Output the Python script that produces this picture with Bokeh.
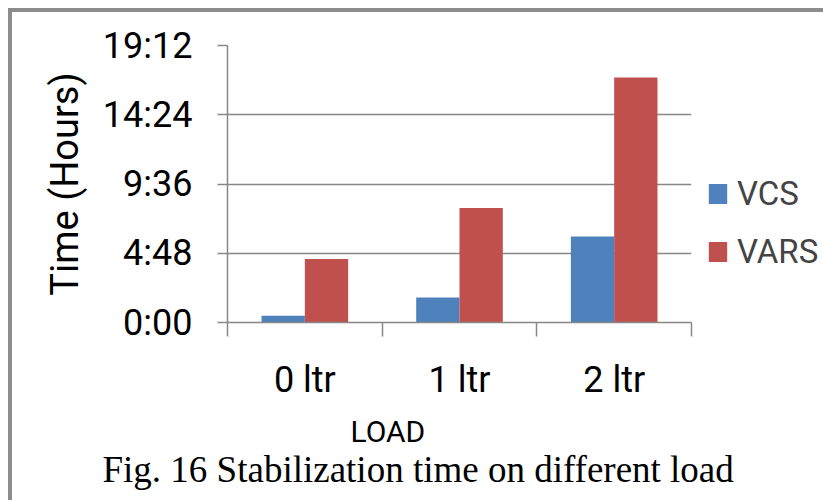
from bokeh.plotting import figure
from bokeh.models import (ColumnDataSource, Range1d, FixedTicker, Legend, LegendItem, Title)
from bokeh.transform import dodge
from bokeh.embed import file_html
from bokeh.resources import INLINE

# ---- data ----
loads = ["0 ltr", "1 ltr", "2 ltr"]
vcs_hours = [0.46, 1.73, 5.96]
vars_hours = [4.41, 7.94, 16.98]
y_ticks = [0, 4.8, 9.6, 14.4, 19.2]
y_tick_labels = ["0:00", "4:48", "9:36", "14:24", "19:12"]

x_title = "LOAD"
y_title = "Time (Hours)"
caption = "Fig. 16 Stabilization time on different load"

SANS = "Roboto"
GRAY = "#878787"
BLUE = "#4F81BD"
RED = "#C0504D"

pos = [i + 0.5 for i in range(len(loads))]
src = ColumnDataSource(dict(x=pos, vcs=vcs_hours, vars=vars_hours))

p = figure(frame_width=464, frame_height=277, output_backend="svg", toolbar_location=None,
           x_range=Range1d(0, len(loads)), y_range=Range1d(y_ticks[0], y_ticks[-1]),
           min_border_left=227, min_border_right=132, min_border_top=45,
           min_border_bottom=178)
p.outline_line_color = None
p.background_fill_color = "white"
p.border_fill_color = None
p.styles = {
    "background": "linear-gradient(#8c8c8c,#8c8c8c) 8px 8px / 4px 100% no-repeat, "
                  "linear-gradient(#8c8c8c,#8c8c8c) 8px 8px / 100% 4px no-repeat, white"
}

r1 = p.vbar(x=dodge("x", -0.14, range=p.x_range), top="vcs", width=0.28, source=src,
            fill_color=BLUE, line_color=None)
r2 = p.vbar(x=dodge("x", 0.14, range=p.x_range), top="vars", width=0.28, source=src,
            fill_color=RED, line_color=None)

# x axis: labels at category centres, ticks at category boundaries
xa = p.xaxis[0]
xa.ticker = FixedTicker(ticks=pos, minor_ticks=list(range(len(loads) + 1)))
xa.major_label_overrides = {pv: lab for pv, lab in zip(pos, loads)}
xa.major_tick_out = 0
xa.major_tick_in = 0
xa.minor_tick_out = 14
xa.minor_tick_in = 0
xa.minor_tick_line_color = GRAY
xa.minor_tick_line_width = 1.5
xa.axis_line_color = GRAY
xa.axis_line_width = 1.5
xa.major_label_standoff = 22
xa.major_label_text_font = SANS
xa.major_label_text_font_size = "36px"
xa.major_label_text_color = "black"

ya = p.yaxis[0]
ya.ticker = FixedTicker(ticks=y_ticks, minor_ticks=[])
ya.major_label_overrides = {tv: lab for tv, lab in zip(y_ticks, y_tick_labels)}
ya.major_tick_out = 10
ya.major_tick_in = 0
ya.major_tick_line_color = GRAY
ya.major_tick_line_width = 1.5
ya.axis_line_color = GRAY
ya.axis_line_width = 1.5
ya.major_label_standoff = 25
ya.major_label_text_font = SANS
ya.major_label_text_font_size = "36px"
ya.major_label_text_color = "black"

p.xgrid.visible = False
p.ygrid.ticker = FixedTicker(ticks=y_ticks)
p.ygrid.grid_line_color = GRAY
p.ygrid.grid_line_width = 1.5

legend = Legend(items=[LegendItem(label="VCS", renderers=[r1]),
                       LegendItem(label="VARS", renderers=[r2])],
                location=(15, 51), padding=0, margin=0, spacing=18,
                glyph_width=23, glyph_height=25, label_standoff=8,
                label_text_font=SANS, label_text_font_size="33px",
                label_height=40, border_line_color=None,
                background_fill_alpha=0)
p.add_layout(legend, "right")

# y axis title, drawn by the axis itself
ya.axis_label = y_title
ya.axis_label_standoff = 13
ya.axis_label_text_font = SANS
ya.axis_label_text_font_size = "38px"
ya.axis_label_text_font_style = "normal"
ya.axis_label_text_color = "black"

p.add_layout(Title(text=x_title, align="left", offset=123, standoff=16,
                   text_font=SANS, text_font_size="30px", text_font_style="normal",
                   text_color="black"), "below")
try:
    cap = Title(text=caption, align="left", offset=-125, standoff=-16, vertical_align="top",
                text_font="Liberation Serif", text_font_size="37px",
                text_font_style="normal", text_color="black")
except Exception:
    cap = Title(text=caption, align="left", offset=-125, standoff=0, vertical_align="top",
                text_font="Liberation Serif", text_font_size="37px",
                text_font_style="normal", text_color="black")
p.add_layout(cap, "below")

open("out.html", "w").write(file_html(p, INLINE))
